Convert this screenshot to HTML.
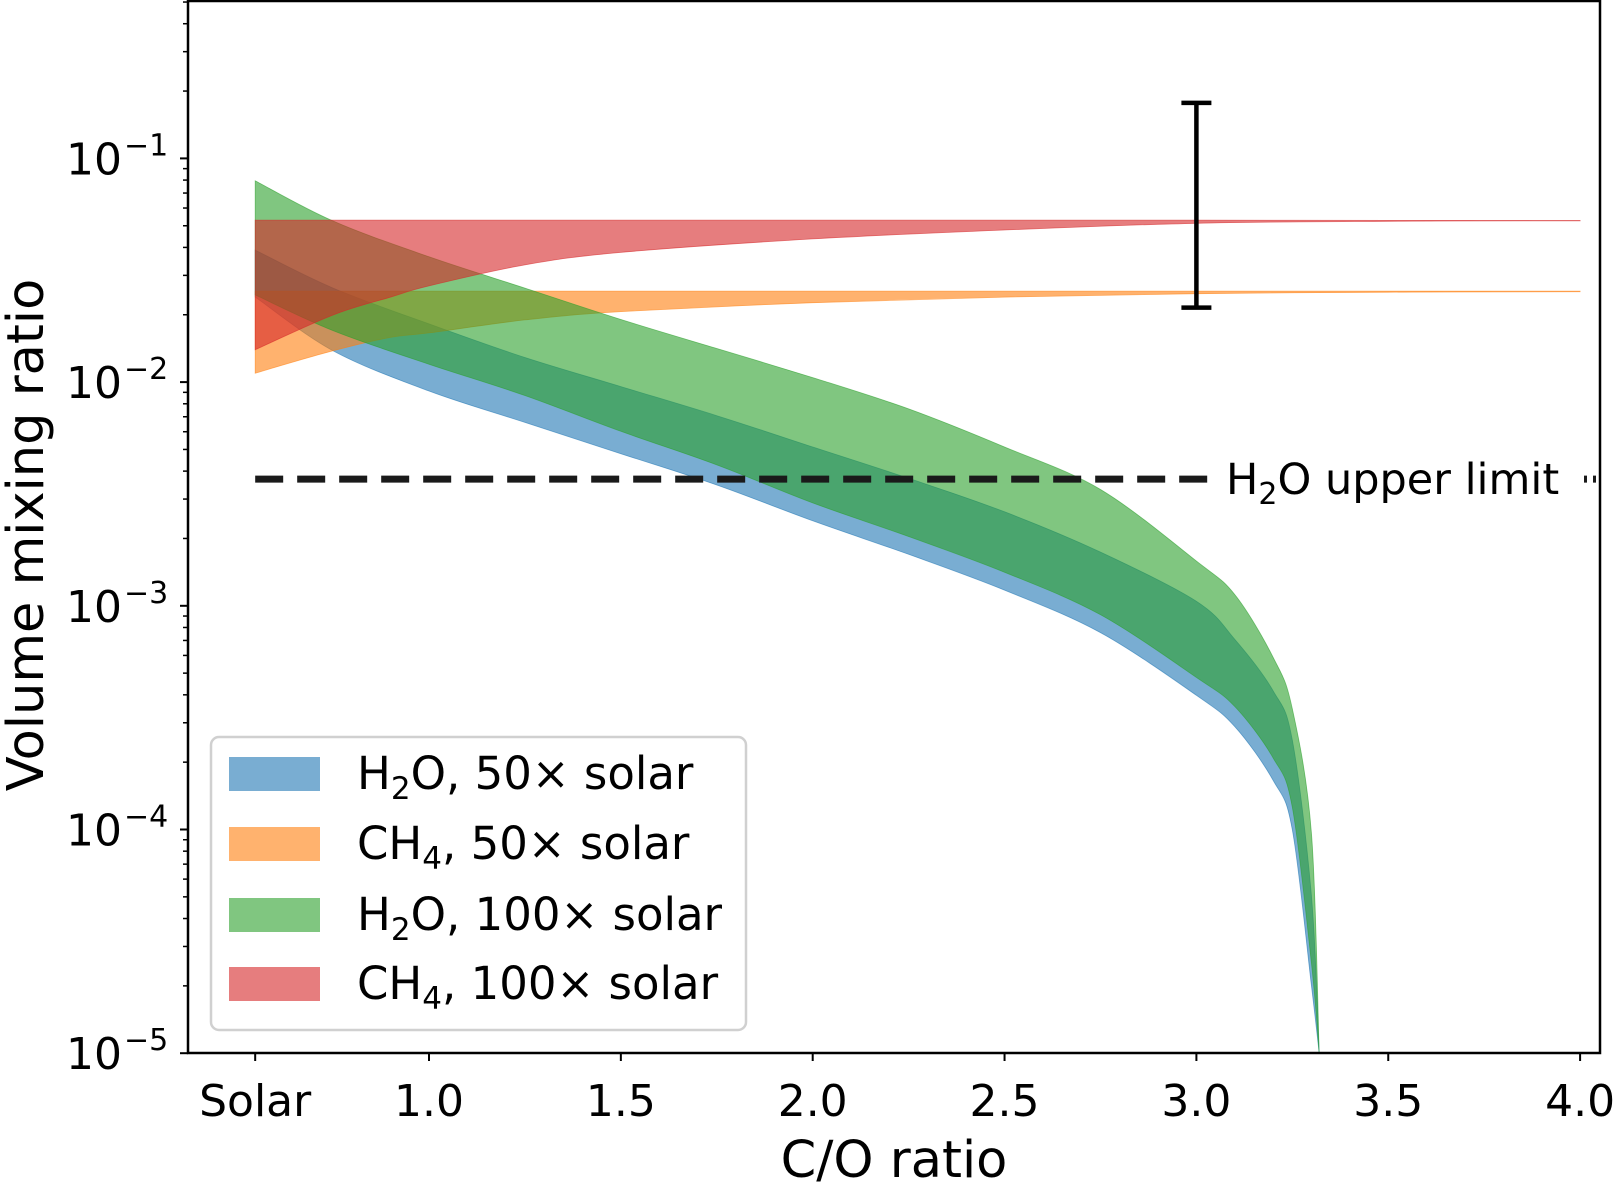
<!DOCTYPE html>
<html><head><meta charset="utf-8"><style>
html,body{margin:0;padding:0;background:#fff}
svg{display:block;font-family:"DejaVu Sans","Liberation Sans",sans-serif}
</style></head><body>
<svg id="chart" width="1613" height="1183" viewBox="0 0 1613 1183" xmlns="http://www.w3.org/2000/svg">
<g id="bands"></g>
<g id="overlay"></g>
<g id="axes"></g>
<g id="legend"></g>
</svg>
<script>
// ---- data ----
const coH2O = [0.547, 0.75, 1.0, 1.25, 1.5, 1.75, 2.0, 2.25, 2.5, 2.75, 3.0, 3.1, 3.2, 3.25, 3.3, 3.32];
const h2o50Upper  = [-1.41,-1.58,-1.74,-1.89,-2.02,-2.15,-2.29,-2.43,-2.58,-2.76,-2.98,-3.15,-3.38,-3.60,-4.30,-5.0];
const h2o50Lower  = [-1.62,-1.86,-2.04,-2.18,-2.32,-2.46,-2.62,-2.77,-2.93,-3.12,-3.40,-3.54,-3.78,-4.00,-4.70,-5.0];
const h2o100Upper = [-1.10,-1.28,-1.44,-1.58,-1.72,-1.85,-1.98,-2.12,-2.29,-2.48,-2.80,-2.95,-3.23,-3.46,-4.02,-5.0];
const h2o100Lower = [-1.61,-1.77,-1.92,-2.06,-2.22,-2.37,-2.54,-2.69,-2.85,-3.04,-3.32,-3.45,-3.68,-3.90,-4.60,-5.0];
const coCH4 = [0.547, 0.75, 0.9, 1.0, 1.25, 1.5, 2.0, 2.5, 3.0, 3.5, 4.0];
const ch4_50Upper  = [-1.593,-1.593,-1.593,-1.593,-1.593,-1.593,-1.593,-1.593,-1.593,-1.593,-1.593];
const ch4_50Lower  = [-1.96,-1.86,-1.80,-1.78,-1.722,-1.685,-1.645,-1.62,-1.605,-1.598,-1.596];
const ch4_100Upper = [-1.276,-1.276,-1.276,-1.276,-1.276,-1.276,-1.276,-1.276,-1.276,-1.277,-1.277];
const ch4_100Lower = [-1.855,-1.70,-1.62,-1.57,-1.476,-1.42,-1.36,-1.32,-1.29,-1.281,-1.279];
const errCO = 3.0;
const errLow = -1.667, errHigh = -0.752;
const limitLog = -2.434;
const xTickVals = [0.547, 1.0, 1.5, 2.0, 2.5, 3.0, 3.5, 4.0];
const xTickLabels = ["Solar","1.0","1.5","2.0","2.5","3.0","3.5","4.0"];
const yTickExps = [-1,-2,-3,-4,-5];
const legendLabels = [["H","2","O, 50× solar"],["CH","4",", 50× solar"],["H","2","O, 100× solar"],["CH","4",", 100× solar"]];
const legendColors = ["rgba(31,119,180,0.6)","rgba(255,127,14,0.6)","rgba(44,160,44,0.6)","rgba(214,39,40,0.6)"];

// ---- axes ----
const L=188, R=1600, T=1, B=1053;
function X(v){return 429+(v-1)*383.7;}
function Y(l){return 158.4+(-1-l)*223.7;}
const NS="http://www.w3.org/2000/svg";
function mk(tag,attrs,parent){const e=document.createElementNS(NS,tag);for(const k in attrs)e.setAttribute(k,attrs[k]);parent.appendChild(e);return e;}

function smooth(pts){ // Catmull-Rom through points, returns segments without initial M
  let d='';
  for(let i=0;i<pts.length-1;i++){
    const p0=pts[Math.max(0,i-1)],p1=pts[i],p2=pts[i+1],p3=pts[Math.min(pts.length-1,i+2)];
    const c1=[p1[0]+(p2[0]-p0[0])/6,p1[1]+(p2[1]-p0[1])/6];
    const c2=[p2[0]-(p3[0]-p1[0])/6,p2[1]-(p3[1]-p1[1])/6];
    d+='C'+c1[0].toFixed(1)+','+c1[1].toFixed(1)+' '+c2[0].toFixed(1)+','+c2[1].toFixed(1)+' '+p2[0].toFixed(1)+','+p2[1].toFixed(1);
  }
  return d;
}
const bands=document.getElementById('bands');
function band(co,up,lo,color,name){
  const u=co.map((c,i)=>[X(c),Y(up[i])]);
  const l=co.map((c,i)=>[X(c),Y(lo[i])]).reverse();
  let d='M'+u[0][0].toFixed(1)+','+u[0][1].toFixed(1)+smooth(u);
  d+='L'+l[0][0].toFixed(1)+','+l[0][1].toFixed(1)+smooth(l)+'Z';
  const p=mk('path',{d:d,fill:color,stroke:color,'stroke-width':'0.8'},bands);
  
  
}
band(coH2O,h2o50Upper,h2o50Lower,legendColors[0],'band-h2o-50x');
band(coCH4,ch4_50Upper,ch4_50Lower,legendColors[1],'band-ch4-50x');
band(coH2O,h2o100Upper,h2o100Lower,legendColors[2],'band-h2o-100x');
band(coCH4,ch4_100Upper,ch4_100Lower,legendColors[3],'band-ch4-100x');

const ov=document.getElementById('overlay');
const dash=mk('line',{x1:X(0.547),x2:X(3.03),y1:Y(limitLog),y2:Y(limitLog),stroke:'#1a1a1a','stroke-width':'7','stroke-dasharray':'28,14'},ov);


const t=mk('text',{x:1226,y:Y(limitLog)+15,'font-size':'43',fill:'#000'},ov);


t.innerHTML='H<tspan font-size="30" dy="10">2</tspan><tspan dy="-10">O upper limit</tspan>';
mk('line',{x1:1584,x2:1597,y1:Y(limitLog),y2:Y(limitLog),stroke:'#1a1a1a','stroke-width':'7','stroke-dasharray':'3,6'},ov);
const eb=mk('g',{stroke:'#000','stroke-width':'4.5'},ov);


mk('line',{x1:X(errCO),x2:X(errCO),y1:Y(errHigh),y2:Y(errLow)},eb);
mk('line',{x1:X(errCO)-15,x2:X(errCO)+15,y1:Y(errHigh),y2:Y(errHigh)},eb);
mk('line',{x1:X(errCO)-15,x2:X(errCO)+15,y1:Y(errLow),y2:Y(errLow)},eb);

const ax=document.getElementById('axes');
const fr=mk('rect',{x:L,y:T,width:R-L,height:B-T,fill:'none',stroke:'#000','stroke-width':'2.5'},ax);


for(let i=0;i<xTickVals.length;i++){
  const x=X(xTickVals[i]);
  mk('line',{x1:x,x2:x,y1:B,y2:B+8,stroke:'#000','stroke-width':'2'},ax);
  const lb=mk('text',{x:x,y:B+63,'font-size':'44','text-anchor':'middle'},ax);
  
  
  lb.textContent=xTickLabels[i];
}
for(let e=-5;e<=0;e++){
  for(let m=1;m<=9;m++){
    const l=e+Math.log10(m); const y=Y(l);
    if(y<T-1||y>B+1)continue;
    mk('line',{x1:L,x2:L-(m===1?8:5),y1:y,y2:y,stroke:'#000','stroke-width':m===1?'2':'1.5'},ax);
  }
}
for(const e of yTickExps){
  const y=Y(e);
  const lb=mk('text',{x:122,y:y+16,'font-size':'44','text-anchor':'end'},ax);
  
  
  lb.textContent='10';
  const sp=mk('text',{x:124,y:y-3,'font-size':'30'},ax);
  sp.textContent='−'+(-e);
}
const xt=mk('text',{x:894,y:1177,'font-size':'51','text-anchor':'middle'},ax);


xt.textContent='C/O ratio';
const yt=mk('text',{x:0,y:0,'font-size':'51','text-anchor':'middle',transform:'translate(43,535) rotate(-90)'},ax);


yt.textContent='Volume mixing ratio';

const lg=document.getElementById('legend');
const box=mk('rect',{x:211,y:737,width:535,height:293,rx:8,fill:'rgba(255,255,255,0.8)',stroke:'#d0d0d0','stroke-width':'2.5'},lg);


const cy=[774,844,915,984];
for(let i=0;i<4;i++){
  const g=mk('g',{},lg);
  
  
  mk('rect',{x:229,y:cy[i]-17,width:91,height:34,fill:legendColors[i]},g);
  const tx=mk('text',{x:357,y:cy[i]+15,'font-size':'45'},g);
  tx.innerHTML=legendLabels[i][0]+'<tspan font-size="31" dy="10">'+legendLabels[i][1]+'</tspan><tspan dy="-10">'+legendLabels[i][2]+'</tspan>';
}
</script>
</body></html>
